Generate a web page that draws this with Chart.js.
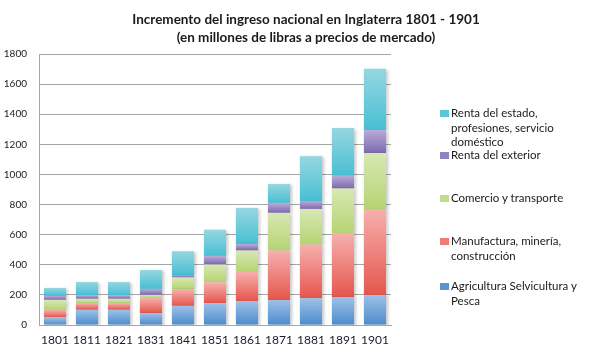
<!DOCTYPE html>
<html lang="es">
<head>
    <meta charset="UTF-8">
    <title>Incremento del ingreso nacional en Inglaterra 1801 - 1901</title>
    <style>
        body {
            margin: 0;
            background: #ffffff;
            font-family: Lato, "Open Sans", sans-serif;
        }
        .wrap {
            position: relative;
            width: 612px;
            height: 364px;
            overflow: hidden;
        }
        .wrap canvas {
            position: absolute;
            left: 0;
            top: 0;
        }
        .title {
            position: absolute;
            left: 0;
            top: 10px;
            width: 612px;
            text-align: center;
            font-weight: bold;
            font-size: 13.5px;
            line-height: 18px;
            color: #1a1a1a;
        }
        .legend-item {
            position: absolute;
            left: 440px;
            font-size: 11.5px;
            line-height: 14.5px;
            color: #1a1a1a;
            white-space: pre-line;
            padding-left: 11px;
        }
        .legend-item .box {
            position: absolute;
            left: 0;
            top: 4px;
            width: 9px;
            height: 7px;
        }
    </style>
    <script src="https://cdn.jsdelivr.net/npm/chart.js"></script>
</head>
<body>
    <div class="wrap">
        <canvas id="ingresoChart" width="612" height="364"></canvas>
        <div class="title">Incremento del ingreso nacional en Inglaterra 1801 - 1901<br>(en millones de libras a precios de mercado)</div>
        <div id="legend"></div>
    </div>

    <script>
        // Data (millones de libras)
        const years = ['1801', '1811', '1821', '1831', '1841', '1851', '1861', '1871', '1881', '1891', '1901'];
        const agricultura = [51, 101, 101, 79, 127, 145, 158, 165, 178, 185, 198];
        const manufactura = [50, 44, 44, 101, 110, 139, 196, 330, 356, 422, 573];
        const comercio = [66, 29, 29, 20, 79, 118, 141, 250, 237, 300, 371];
        const exterior = [26, 24, 24, 40, 16, 57, 43, 66, 53, 84, 153];
        const estado = [53, 88, 88, 125, 158, 174, 240, 125, 297, 318, 407];

        const seriesNames = [
            'Agricultura Selvicultura y\nPesca',
            'Manufactura, minería,\nconstrucción',
            'Comercio y transporte',
            'Renta del exterior',
            'Renta del estado,\nprofesiones, servicio\ndoméstico'
        ];
        const yTicks = [0, 200, 400, 600, 800, 1000, 1200, 1400, 1600, 1800];

        const allSeries = [agricultura, manufactura, comercio, exterior, estado];

        // top / bottom colour of each segment gradient
        const palette = [
            { light: '#9dc1e8', dark: '#4d8bcc', box: '#5a95d3' },
            { light: '#f6b0ae', dark: '#e5564d', box: '#ee7b75' },
            { light: '#d8e8b4', dark: '#b5d472', box: '#c3dc8c' },
            { light: '#b8acd9', dark: '#7c69ae', box: '#9283c0' },
            { light: '#95d7e1', dark: '#48bfd3', box: '#5cc6d8' }
        ];
        // legend item tops (px)
        const legendTops = [279, 234, 191, 148, 106];

        function segmentFill(ctx) {
            const chart = ctx.chart;
            const pal = palette[ctx.datasetIndex];
            if (!chart.chartArea || ctx.type !== 'data') return pal.box;
            let base = 0;
            for (let i = 0; i < ctx.datasetIndex; i++) base += allSeries[i][ctx.dataIndex];
            const top = base + allSeries[ctx.datasetIndex][ctx.dataIndex];
            const y0 = chart.scales.y.getPixelForValue(top);
            const y1 = chart.scales.y.getPixelForValue(base);
            const g = chart.ctx.createLinearGradient(0, y0, 0, y1);
            g.addColorStop(0, pal.light);
            g.addColorStop(1, pal.dark);
            return g;
        }

        // soft shadow behind the bars
        const barShadow = {
            id: 'barShadow',
            beforeDatasetsDraw(chart) {
                const c = chart.ctx;
                c.save();
                c.shadowColor = 'rgba(0, 0, 0, 0.22)';
                c.shadowBlur = 3;
                c.shadowOffsetX = 1.5;
                c.shadowOffsetY = 1;
            },
            afterDatasetsDraw(chart) {
                chart.ctx.restore();
            }
        };

        const ctx = document.getElementById('ingresoChart').getContext('2d');
        const chart = new Chart(ctx, {
            type: 'bar',
            data: {
                labels: years,
                datasets: allSeries.map((values, i) => ({
                    label: seriesNames[i],
                    data: values,
                    backgroundColor: segmentFill,
                    borderWidth: 0,
                    barPercentage: 0.69,
                    categoryPercentage: 1
                }))
            },
            options: {
                responsive: false,
                animation: false,
                layout: {
                    padding: { top: 54, right: 221, bottom: 0, left: 0 }
                },
                plugins: {
                    legend: { display: false },
                    title: { display: false },
                    tooltip: { enabled: false }
                },
                scales: {
                    x: {
                        stacked: true,
                        grid: { display: false, drawTicks: false },
                        border: { color: '#a6a6a6', width: 1 },
                        ticks: {
                            padding: 8,
                            autoSkip: false,
                            minRotation: 0,
                            maxRotation: 0,
                            color: '#1a1a2e',
                            font: { family: 'Lato', size: 12 }
                        },
                        afterFit(scale) { scale.height = 39; }
                    },
                    y: {
                        stacked: true,
                        min: 0,
                        max: 1800,
                        afterBuildTicks(scale) {
                            scale.ticks = yTicks.map(v => ({ value: v }));
                        },
                        grid: { color: '#a6a6a6', drawTicks: false },
                        border: { color: '#a6a6a6', width: 1 },
                        ticks: {
                            padding: 12,
                            color: '#1a1a1a',
                            font: { family: 'Lato', size: 10 },
                            callback: v => String(v)
                        },
                        afterFit(scale) { scale.width = 39; }
                    }
                }
            },
            plugins: [barShadow]
        });

        // legend built from the dataset names
        const legend = document.getElementById('legend');
        seriesNames.forEach((name, i) => {
            const item = document.createElement('div');
            item.className = 'legend-item';
            item.style.top = legendTops[i] + 'px';
            item.textContent = name;
            const box = document.createElement('span');
            box.className = 'box';
            box.style.background = palette[i].box;
            item.prepend(box);
            legend.appendChild(item);
        });
    </script>
</body>
</html>
